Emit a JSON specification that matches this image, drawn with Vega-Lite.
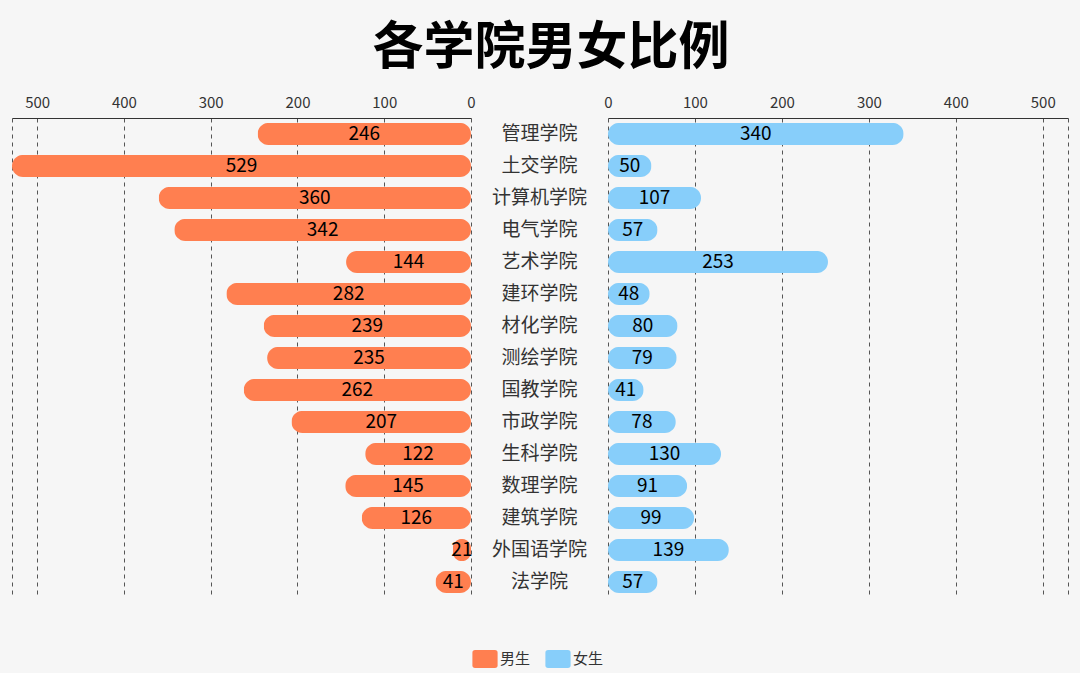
{
  "$schema": "https://vega.github.io/schema/vega-lite/v6.json",
  "background": "#f6f6f6",
  "padding": {"left": 12, "right": 12, "top": 23, "bottom": 5},
  "title": {"text": "各学院男女比例", "fontSize": 51, "fontWeight": "bold", "font": "Noto Sans CJK SC", "color": "#000000", "anchor": "middle", "offset": 20, "dx": 11},
  "data": {"values": [
    {"c": "管理学院", "g": "男生", "v": 246}, {"c": "管理学院", "g": "女生", "v": 340},
    {"c": "土交学院", "g": "男生", "v": 529}, {"c": "土交学院", "g": "女生", "v": 50},
    {"c": "计算机学院", "g": "男生", "v": 360}, {"c": "计算机学院", "g": "女生", "v": 107},
    {"c": "电气学院", "g": "男生", "v": 342}, {"c": "电气学院", "g": "女生", "v": 57},
    {"c": "艺术学院", "g": "男生", "v": 144}, {"c": "艺术学院", "g": "女生", "v": 253},
    {"c": "建环学院", "g": "男生", "v": 282}, {"c": "建环学院", "g": "女生", "v": 48},
    {"c": "材化学院", "g": "男生", "v": 239}, {"c": "材化学院", "g": "女生", "v": 80},
    {"c": "测绘学院", "g": "男生", "v": 235}, {"c": "测绘学院", "g": "女生", "v": 79},
    {"c": "国教学院", "g": "男生", "v": 262}, {"c": "国教学院", "g": "女生", "v": 41},
    {"c": "市政学院", "g": "男生", "v": 207}, {"c": "市政学院", "g": "女生", "v": 78},
    {"c": "生科学院", "g": "男生", "v": 122}, {"c": "生科学院", "g": "女生", "v": 130},
    {"c": "数理学院", "g": "男生", "v": 145}, {"c": "数理学院", "g": "女生", "v": 91},
    {"c": "建筑学院", "g": "男生", "v": 126}, {"c": "建筑学院", "g": "女生", "v": 99},
    {"c": "外国语学院", "g": "男生", "v": 21}, {"c": "外国语学院", "g": "女生", "v": 139},
    {"c": "法学院", "g": "男生", "v": 41}, {"c": "法学院", "g": "女生", "v": 57}
  ]},
  "spacing": 0,
  "hconcat": [
    {
      "width": 459, "height": 480,
      "transform": [{"filter": "datum.g === '男生'"}],
      "encoding": {"y": {"field": "c", "type": "nominal", "sort": ["管理学院","土交学院","计算机学院","电气学院","艺术学院","建环学院","材化学院","测绘学院","国教学院","市政学院","生科学院","数理学院","建筑学院","外国语学院","法学院"], "axis": null, "scale": {"paddingInner": 0.31, "paddingOuter": 0.155}}},
      "layer": [
        {"mark": {"type": "bar", "cornerRadius": 11},
         "encoding": {
           "x": {"field": "v", "type": "quantitative", "scale": {"domain": [0, 529], "reverse": true, "nice": false, "zero": true},
                 "axis": {"orient": "top", "values": [0,100,200,300,400,500,529], "labelExpr": "datum.value == 529 ? '' : datum.label", "title": null}},
           "color": {"field": "g", "type": "nominal", "scale": {"domain": ["男生", "女生"], "range": ["#ff7f50", "#87cefa"]}, "legend": {"title": null, "orient": "bottom", "direction": "horizontal"}}
         }},
        {"mark": {"type": "text", "fontSize": 19, "font": "Noto Sans CJK SC", "color": "#000000"},
         "encoding": {
           "x": {"field": "v", "type": "quantitative", "scale": {"domain": [0, 1058], "reverse": true, "nice": false}, "axis": null},
           "text": {"field": "v", "type": "quantitative"}
         }}
      ],
      "resolve": {"scale": {"x": "independent"}}
    },
    {
      "width": 127, "height": 480,
      "transform": [{"filter": "datum.g === '男生'"}],
      "mark": {"type": "text", "fontSize": 19, "font": "Noto Sans CJK SC", "color": "#333333"},
      "encoding": {
        "y": {"field": "c", "type": "nominal", "sort": ["管理学院","土交学院","计算机学院","电气学院","艺术学院","建环学院","材化学院","测绘学院","国教学院","市政学院","生科学院","数理学院","建筑学院","外国语学院","法学院"], "axis": null, "scale": {"paddingInner": 0.31, "paddingOuter": 0.155}},
        "text": {"field": "c", "type": "nominal"}
      }
    },
    {
      "width": 460, "height": 480,
      "transform": [{"filter": "datum.g === '女生'"}],
      "encoding": {"y": {"field": "c", "type": "nominal", "sort": ["管理学院","土交学院","计算机学院","电气学院","艺术学院","建环学院","材化学院","测绘学院","国教学院","市政学院","生科学院","数理学院","建筑学院","外国语学院","法学院"], "axis": null, "scale": {"paddingInner": 0.31, "paddingOuter": 0.155}}},
      "layer": [
        {"mark": {"type": "bar", "cornerRadius": 11},
         "encoding": {
           "x": {"field": "v", "type": "quantitative", "scale": {"domain": [0, 529], "nice": false, "zero": true},
                 "axis": {"orient": "top", "values": [0,100,200,300,400,500,529], "labelExpr": "datum.value == 529 ? '' : datum.label", "title": null}},
           "color": {"field": "g", "type": "nominal", "scale": {"domain": ["男生", "女生"], "range": ["#ff7f50", "#87cefa"]}, "legend": {"title": null, "orient": "bottom", "direction": "horizontal"}}
         }},
        {"mark": {"type": "text", "fontSize": 19, "font": "Noto Sans CJK SC", "color": "#000000"},
         "encoding": {
           "x": {"field": "v", "type": "quantitative", "scale": {"domain": [0, 1058], "nice": false}, "axis": null},
           "text": {"field": "v", "type": "quantitative"}
         }}
      ],
      "resolve": {"scale": {"x": "independent"}}
    }
  ],
  "config": {
    "view": {"stroke": null},
    "axis": {
      "grid": true, "gridDash": [4, 4], "gridColor": "#555555", "gridWidth": 1, "gridOpacity": 1,
      "domain": true, "domainColor": "#333333", "domainWidth": 1,
      "ticks": false, "labelFontSize": 15, "labelColor": "#333333", "labelFont": "Noto Sans CJK SC", "labelPadding": 8, "labelFlush": false, "labelOverlap": false
    },
    "legend": {
      "orient": "bottom", "offset": 52, "labelFontSize": 15, "labelColor": "#333333", "labelFont": "Noto Sans CJK SC",
      "layout": {"bottom": {"anchor": "middle"}},
      "symbolType": "M-1.1,-1 L1.1,-1 Q1.4,-1 1.4,-0.7 L1.4,0.7 Q1.4,1 1.1,1 L-1.1,1 Q-1.4,1 -1.4,0.7 L-1.4,-0.7 Q-1.4,-1 -1.1,-1 Z",
      "symbolSize": 324, "symbolOpacity": 1, "symbolStrokeWidth": 0, "columnPadding": 14, "labelOffset": 6
    }
  }
}
